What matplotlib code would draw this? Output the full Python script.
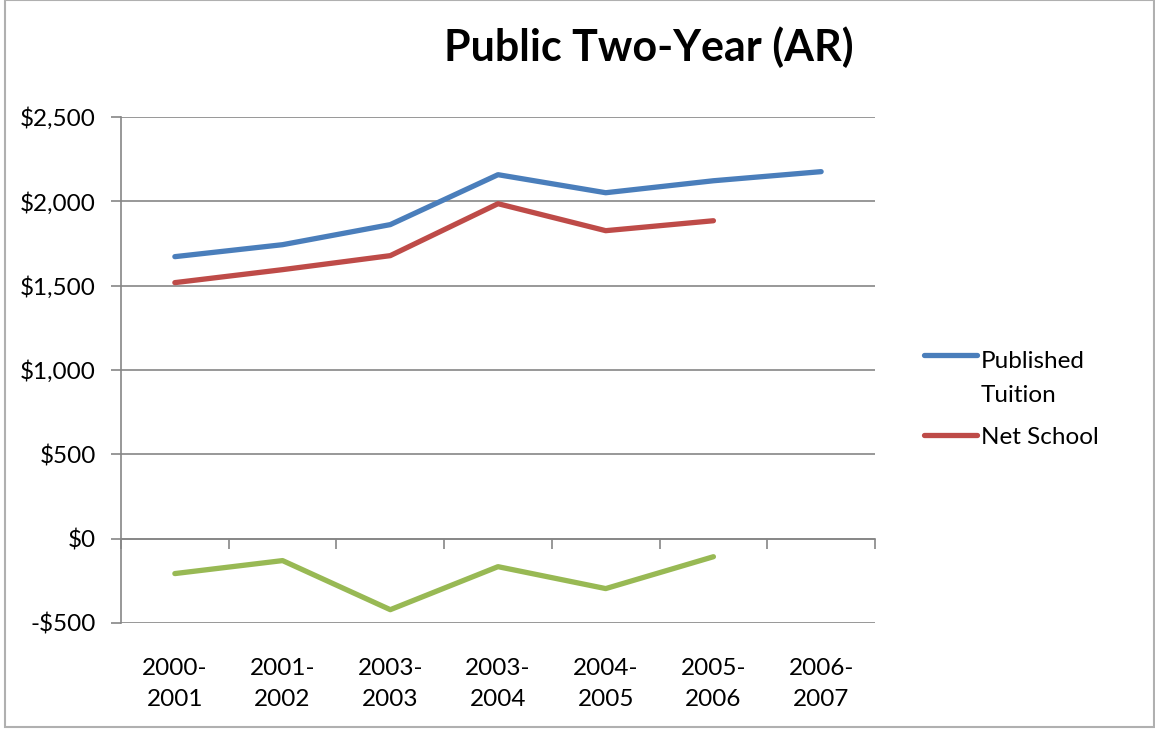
import matplotlib
matplotlib.use("Agg")
import matplotlib.pyplot as plt
from matplotlib.patches import Rectangle
from matplotlib.ticker import FuncFormatter
from matplotlib.legend_handler import HandlerLine2D

categories = ["2000-\n2001", "2001-\n2002", "2003-\n2003", "2003-\n2004",
              "2004-\n2005", "2005-\n2006", "2006-\n2007"]
published_tuition = [1672, 1743, 1862, 2158, 2051, 2122, 2176]
net_school = [1518, 1595, 1678, 1986, 1826, 1885]
difference = [-207, -130, -421, -166, -296, -107]

plt.rcParams['font.family'] = ['Lato', 'DejaVu Sans']

fig = plt.figure(figsize=(11.55, 7.29), dpi=100)
ax = fig.add_axes([121/1155, 1-623/729, (875-121)/1155, (623-117)/729])

grey = "#868686"
lw = 3.8
x = list(range(len(categories)))
ax.plot(x, published_tuition, color="#4A7EBB", lw=lw, solid_capstyle="round", label="Published\nTuition")
ax.plot(x[:len(net_school)], net_school, color="#BE4B48", lw=lw, solid_capstyle="round", label="Net School")
ax.plot(x[:len(difference)], difference, color="#98B954", lw=lw, solid_capstyle="round", label="_nolegend_")

ax.set_xlim(-0.5, len(categories) - 0.5)
ax.set_ylim(-500, 2500)
ax.set_yticks(range(-500, 2501, 500))
ax.yaxis.set_major_formatter(FuncFormatter(lambda v, p: f"-${abs(int(v)):,}" if v < 0 else f"${int(v):,}"))
ax.grid(axis="y", color=grey, lw=1.2)
ax.set_axisbelow(True)
for s in ["top", "right", "bottom"]:
    ax.spines[s].set_visible(False)
ax.spines["left"].set_color(grey)
ax.spines["left"].set_linewidth(1.2)
ax.tick_params(axis="y", length=7, width=1.2, color=grey, labelsize=17.5, pad=11)
ax.set_xticks(x)
ax.set_xticklabels(categories)
ax.tick_params(axis="x", length=0, labelsize=17.5, pad=25)
for lbl in ax.get_xticklabels():
    lbl.set_linespacing(1.6)

sec = ax.secondary_xaxis(1/6)
sec.set_xticks([i - 0.5 for i in range(len(categories) + 1)])
sec.set_xticklabels([])
sec.tick_params(axis="x", direction="out", length=7, width=1.2, color=grey)
sec.spines["bottom"].set_color(grey)
sec.spines["bottom"].set_linewidth(1.2)
sec.xaxis.set_ticks_position("bottom")

fig.text(0.562, 0.935, "Public Two-Year (AR)", ha="center", va="center",
         fontsize=31, fontweight="bold")


class TopAlignedLine(HandlerLine2D):
    def __init__(self, shift, **kw):
        super().__init__(**kw)
        self.shift = shift

    def create_artists(self, legend, orig_handle, xdescent, ydescent, width, height, fontsize, trans):
        arts = super().create_artists(legend, orig_handle, xdescent, ydescent, width, height, fontsize, trans)
        for a in arts:
            a.set_ydata([y + self.shift for y in a.get_ydata()])
        return arts


lines = ax.get_lines()[:2]
leg = fig.legend(handles=lines, loc="center left", bbox_to_anchor=(902/1155, 0.452), frameon=False,
                 fontsize=17.5, handlelength=2.2, handletextpad=0.15, labelspacing=0.85,
                 handler_map={lines[0]: TopAlignedLine(17)})
for t in leg.get_texts():
    t.set_linespacing(1.75)

fig.add_artist(Rectangle((5/1155, 2/729), 1 - 6/1155, 1 - 2/729, transform=fig.transFigure,
                         fill=False, edgecolor="#B0B0B0", lw=1.5))

fig.savefig("out.png", dpi=100)
